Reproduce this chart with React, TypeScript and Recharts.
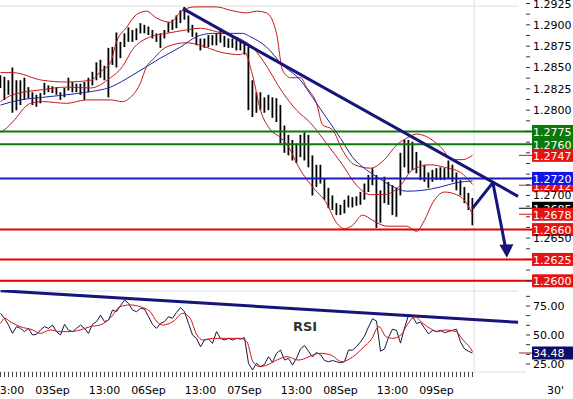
import React from "react";
import { ComposedChart, Bar, Line, XAxis, YAxis, ReferenceLine, ReferenceDot } from "recharts";

// ---------- hourly bars (index = hour, 0 = 02 Sep 11:00) ----------
const priceHigh = [
  1.2841, 1.2839, 1.2835, 1.285, 1.2835, 1.2835, 1.2838, 1.2827, 1.2821, 1.2818,
  1.282, 1.2832, 1.2829, 1.2828, 1.2827, 1.2821, 1.2826, 1.2838, 1.2833, 1.2831,
  1.2831, 1.2833, 1.2838, 1.2845, 1.2856, 1.2859, 1.2852, 1.2873, 1.2874, 1.2891,
  1.288, 1.289, 1.2897, 1.2894, 1.2896, 1.2902, 1.29, 1.2898, 1.2894, 1.289,
  1.289, 1.2894, 1.2903, 1.2906, 1.2911, 1.2917, 1.2921, 1.2911, 1.29, 1.2891,
  1.2884, 1.2884, 1.2888, 1.2888, 1.289, 1.2894, 1.2887, 1.2884, 1.2884, 1.2882,
  1.2882, 1.2879, 1.2874, 1.2835, 1.2821, 1.2821, 1.2815, 1.2818, 1.2815, 1.2814,
  1.2806, 1.2782, 1.2771, 1.2765, 1.2761, 1.2771, 1.2774, 1.2771, 1.2747, 1.2736,
  1.2736, 1.272, 1.2709, 1.27, 1.2691, 1.2689, 1.2695, 1.27, 1.2698, 1.2699,
  1.2704, 1.2714, 1.2724, 1.2732, 1.2724, 1.2706, 1.2722, 1.2716, 1.2712, 1.2709,
  1.275, 1.2765, 1.2765, 1.2763, 1.2751, 1.2741, 1.2736, 1.2727, 1.273, 1.2732,
  1.2733, 1.2732, 1.2741, 1.2736, 1.2727, 1.2718, 1.271, 1.2703, 1.2697,
];
const priceLow = [
  1.2826, 1.2812, 1.2818, 1.2797, 1.28, 1.2806, 1.2812, 1.2814, 1.2806, 1.2804,
  1.2808, 1.2818, 1.2821, 1.282, 1.2818, 1.2812, 1.2815, 1.2823, 1.2821, 1.2821,
  1.2818, 1.2812, 1.2821, 1.2829, 1.2835, 1.2838, 1.2835, 1.2815, 1.2853, 1.285,
  1.2861, 1.2874, 1.288, 1.288, 1.2882, 1.289, 1.289, 1.2888, 1.2884, 1.288,
  1.2873, 1.2884, 1.2891, 1.2894, 1.2896, 1.2902, 1.2906, 1.2891, 1.2886, 1.2876,
  1.287, 1.2873, 1.2874, 1.2876, 1.2876, 1.2879, 1.2874, 1.2873, 1.2873, 1.287,
  1.287, 1.2865, 1.28, 1.2792, 1.2797, 1.28, 1.2797, 1.28, 1.2791, 1.2786,
  1.2761, 1.275, 1.2747, 1.2741, 1.2738, 1.2745, 1.2741, 1.2733, 1.27, 1.271,
  1.2714, 1.2695, 1.2685, 1.2683, 1.2677, 1.2677, 1.2679, 1.2686, 1.2686, 1.2688,
  1.2689, 1.2695, 1.2704, 1.2712, 1.2662, 1.2668, 1.2691, 1.2689, 1.2677, 1.2675,
  1.27, 1.2733, 1.2726, 1.273, 1.2726, 1.2718, 1.2716, 1.2709, 1.2716, 1.2718,
  1.2718, 1.2718, 1.272, 1.2716, 1.2706, 1.27, 1.2691, 1.2683, 1.2665,
];
const rsiValues = [
  68.7, 64.4, 58.6, 51.4, 57.2, 55.7, 52.9, 55.7, 50.0, 50.6,
  54.3, 57.2, 55.7, 58.6, 52.9, 50.0, 59.2, 54.3, 52.9, 55.7,
  58.6, 55.7, 51.4, 59.2, 61.5, 67.2, 61.5, 62.9, 71.5, 70.1,
  75.3, 80.2, 77.3, 71.5, 70.1, 73.0, 72.4, 65.8, 59.2, 55.7,
  60.0, 61.5, 65.8, 64.4, 69.5, 73.6, 70.1, 60.0, 50.0, 47.1,
  39.9, 45.7, 46.5, 42.8, 52.9, 47.1, 45.7, 47.1, 45.7, 47.1,
  46.5, 47.7, 25.6, 19.8, 25.6, 22.7, 24.7, 31.3, 26.4, 34.2,
  37.1, 28.4, 29.9, 24.1, 30, 38, 41, 36, 31, 35,
  33, 28, 27, 28, 27, 26, 27, 37, 37, 40,
  44, 49, 57, 64, 62, 36, 38, 48, 55, 54,
  43, 56, 67, 66, 60, 61, 56, 51, 54, 53,
  54, 52, 53, 54, 55, 44, 38, 36, 34.48,
];

// ---------- indicator lines (hour index, value) ----------
const upperK = [0, 3, 10.5, 16.5, 22.5, 25, 27.5, 29, 31.5, 34, 36.5, 39, 42.5, 45, 48.5, 54, 57.5, 61.5, 64, 66.5, 69, 70.5, 72.5, 75, 76.5, 79, 80.5, 83, 85.5, 88.5, 92.5, 96, 99, 101.5, 104, 106.5, 110, 113, 115.5, 118];
const upperV = [1.2844, 1.2844, 1.2835, 1.2833, 1.2835, 1.2845, 1.2856, 1.288, 1.2897, 1.2912, 1.2916, 1.2908, 1.2903, 1.2915, 1.2921, 1.2921, 1.2917, 1.2914, 1.2916, 1.2914, 1.289, 1.2847, 1.2838, 1.2838, 1.2827, 1.2808, 1.2783, 1.2777, 1.2753, 1.2736, 1.2732, 1.2742, 1.2759, 1.2767, 1.2772, 1.2769, 1.2757, 1.2742, 1.2742, 1.2747];
const midK = [0, 3, 10.5, 16.5, 22.5, 27.5, 30.5, 33, 37.5, 41.5, 46.5, 50, 54, 60.5, 62.5, 65.5, 70.5, 74, 77.5, 81.5, 85.5, 89, 92.5, 96, 100, 103, 107.5, 111, 115, 118];
const midV = [1.281, 1.2818, 1.2824, 1.2827, 1.2826, 1.2838, 1.2851, 1.2871, 1.2886, 1.289, 1.2894, 1.2896, 1.2892, 1.2882, 1.2876, 1.2859, 1.2821, 1.28, 1.2785, 1.2761, 1.2736, 1.2712, 1.2701, 1.2701, 1.2712, 1.273, 1.2736, 1.2733, 1.2727, 1.2713];
const lowerK = [0, 1.5, 3, 7.5, 10.5, 16.5, 21.5, 27.5, 30.5, 32.5, 35, 36.5, 38, 41.5, 46.5, 50, 55, 60, 61, 63, 65, 67.5, 70, 72.5, 74, 78, 81.5, 84, 86, 88, 90.5, 93, 96.5, 101.5, 104, 106, 108, 111, 114, 116.5, 118];
const lowerV = [1.2774, 1.2779, 1.2786, 1.2808, 1.281, 1.2808, 1.2812, 1.2812, 1.281, 1.2815, 1.2832, 1.2851, 1.2859, 1.2874, 1.2879, 1.2876, 1.2868, 1.2865, 1.2868, 1.2841, 1.28, 1.2777, 1.2768, 1.2753, 1.2738, 1.271, 1.2691, 1.2668, 1.2661, 1.2665, 1.2677, 1.2671, 1.2664, 1.2664, 1.2658, 1.2671, 1.2691, 1.2704, 1.2701, 1.2691, 1.2678];
const maK = [0, 5, 10.5, 16.5, 21.5, 27.5, 33, 36.5, 40, 45, 49, 53, 60.5, 62.5, 66.5, 70.5, 75, 78, 81.5, 85, 88, 91.5, 94, 97.5, 101.5, 105.5, 110, 114, 118];
const maV = [1.2806, 1.2812, 1.2815, 1.2818, 1.2821, 1.2827, 1.2841, 1.2851, 1.2861, 1.2874, 1.2886, 1.289, 1.289, 1.2886, 1.2874, 1.2853, 1.2835, 1.2815, 1.2791, 1.2767, 1.2745, 1.273, 1.2722, 1.2712, 1.2705, 1.2706, 1.271, 1.2715, 1.2717];
const sigK = [0, 1.1, 2.4, 4.9, 8.1, 9.9, 12.4, 14.9, 17.4, 19.9, 22.4, 24.9, 27.4, 29.9, 32.4, 34.9, 37.4, 39.1, 40.6, 43.1, 45.6, 47.4, 49.1, 50.6, 53.1, 56.6, 59.9, 61.6, 63.1, 64.9, 66.6, 69.1, 71.6, 74.4, 79.9, 82.6, 85.4, 88.1, 90.9, 92.6, 94.6, 96.4, 98.1, 100.1, 101.9, 103.6, 105.6, 107.4, 109.3, 111.1, 113.9, 115.6, 117.5, 118];
const sigV = [60, 64.4, 61.5, 57.2, 54.3, 51.4, 54.3, 52.9, 52.9, 54.3, 57.2, 58.6, 64.4, 74.4, 75.9, 74.4, 70.1, 61.5, 58.6, 61.5, 68.7, 64.4, 50, 45.7, 47.1, 47.1, 47.1, 44.2, 27, 22.7, 24.1, 28.4, 31.3, 28.4, 34.2, 32.7, 27, 31.3, 39.9, 45.7, 57.2, 48.5, 47.1, 50, 60, 65.8, 60, 55.7, 52.9, 54.3, 52.9, 45.7, 38.5, 35.6];

// ---------- levels, trend lines, labels ----------
const resistance = [1.2775, 1.276];
const pivot = 1.272;
const supports = [1.266, 1.2625, 1.26];
const bandUpperLast = 1.2747;
const bandMidLast = 1.2712;
const lastPrice = 1.2685;
const bandLowerLast = 1.2678;
const rsiLast = 34.48;
const priceTrend = [{ x: 45.6, y: 1.2919 }, { x: 129.4, y: 1.2699 }];
const rsiTrend = [{ x: 0, y: 88.2 }, { x: 129.4, y: 60.9 }];
const arrowUp = [{ x: 118, y: 1.2685 }, { x: 123.1, y: 1.2715 }];
const arrowDown = [{ x: 123.1, y: 1.2715 }, { x: 126.2, y: 1.264 }];
const arrowTip = { x: 126.6, y: 1.2627 };
const lastBar = 118.4;

const priceTicks = [1.2925, 1.29125, 1.29, 1.28875, 1.2875, 1.28625, 1.285, 1.28375, 1.2825, 1.28125, 1.28, 1.27875, 1.2775, 1.27625, 1.275, 1.27375, 1.2725, 1.27125, 1.27, 1.26875, 1.2675, 1.26625, 1.265, 1.26375, 1.2625, 1.26125, 1.26];
const priceTickText = ["1.2925", "", "1.2900", "", "1.2875", "", "1.2850", "", "1.2825", "", "1.2800", "", "", "", "", "", "", "", "1.2700", "", "", "", "1.2650", "", "", "", ""];
const rsiTicks = [25, 33.33, 41.67, 50, 58.33, 66.67, 75, 83.33];
const rsiTickText = ["25.00", "", "", "50.00", "", "", "75.00", ""];
const timeTickK = [2, 13, 26, 37, 50, 61, 74, 85, 98, 109];
const timeTickText = ["13:00", "03Sep", "13:00", "06Sep", "13:00", "07Sep", "13:00", "08Sep", "13:00", "09Sep"];

const hourIdx = priceHigh.map((_, i) => i);
const barData = hourIdx.map((k) => ({ k, range: [priceLow[k], priceHigh[k]] }));
const rsiData = hourIdx.map((k) => ({ k, rsi: rsiValues[k] }));
const pairs = (ks: number[], vs: number[]) => ks.map((k, i) => ({ k, v: vs[i] }));

const FONT = "DejaVu Sans";
const X_DOMAIN: [number, number] = [-0.125, 131.375];
const NAVY = "#16167a";
const FAINT = "#d8e0e8";

const boxLabel = (text: string, bg: string, opts: { ext?: string; dash?: string; fg?: string } = {}) => (props: any) => {
  const vb = props.viewBox || {};
  const xr = (vb.x || 0) + (vb.width || 0);
  const y = vb.y || 0;
  return (
    <g>
      {opts.ext ? <line x1={xr} x2={xr + 7} y1={y} y2={y} stroke={opts.ext} strokeWidth={2} /> : null}
      {opts.dash ? <line x1={xr - 7} x2={xr + 6} y1={y} y2={y} stroke={opts.dash} strokeWidth={1} /> : null}
      <rect x={xr + 6} y={y - 6.5} width={47} height={13} fill={bg} />
      <text x={xr + 7} y={y + 4.5} fill={opts.fg || "#fff"} fontSize={11} fontFamily={FONT}>{text}</text>
    </g>
  );
};

function PriceTick(props: any) {
  const { x, y, payload } = props;
  const i = priceTicks.indexOf(payload.value);
  const t = i >= 0 ? priceTickText[i] : "";
  if (!t) return <g />;
  return <text x={x} y={y + 4} fontSize={11} fontFamily={FONT} fill="#000">{t}</text>;
}
function RsiTick(props: any) {
  const { x, y, payload } = props;
  const i = rsiTicks.indexOf(payload.value);
  const t = i >= 0 ? rsiTickText[i] : "";
  if (!t) return <g />;
  return <text x={x} y={y + 4} fontSize={11} fontFamily={FONT} fill="#000">{t}</text>;
}
function TimeTick(props: any) {
  const { x, y, payload } = props;
  const i = timeTickK.indexOf(payload.value);
  if (i < 0) return <g />;
  return <text x={x} y={y + 15} textAnchor="middle" fontSize={11} fontFamily={FONT} fill="#000">{timeTickText[i]}</text>;
}

export default function App() {
  return (
    <div style={{ position: "absolute", left: 0, top: 0, width: 573, height: 399, background: "#fff", overflow: "hidden", fontFamily: FONT }}>
      <div style={{ position: "absolute", left: 0, top: 0 }}>
        <ComposedChart width={573} height={290} data={barData} margin={{ top: 0, right: 0, bottom: 0, left: 0 }}>
          <XAxis type="number" dataKey="k" domain={X_DOMAIN} hide allowDataOverflow />
          <YAxis orientation="right" width={47} domain={[1.25892, 1.29291]} ticks={priceTicks} interval={0} tickSize={4} tickMargin={3} tickLine={{ stroke: "#333" }} axisLine={false} tick={PriceTick} allowDataOverflow />
          <ReferenceLine segment={[{ x: -0.125, y: 1.2922 }, { x: 129.4, y: 1.2922 }]} stroke={FAINT} ifOverflow="visible" />
          <ReferenceLine x={lastBar} stroke={FAINT} />
          <Line data={pairs(upperK, upperV)} dataKey="v" type="monotone" stroke="#c41818" strokeWidth={1} dot={false} activeDot={false} isAnimationActive={false} />
          <Line data={pairs(midK, midV)} dataKey="v" type="monotone" stroke="#c41818" strokeWidth={1} dot={false} activeDot={false} isAnimationActive={false} />
          <Line data={pairs(lowerK, lowerV)} dataKey="v" type="monotone" stroke="#c41818" strokeWidth={1} dot={false} activeDot={false} isAnimationActive={false} />
          <Line data={pairs(maK, maV)} dataKey="v" type="monotone" stroke="#2222a6" strokeWidth={1} dot={false} activeDot={false} isAnimationActive={false} />
          <Bar dataKey="range" fill="#000" barSize={2} isAnimationActive={false} />
          {resistance.map((v) => (
            <ReferenceLine key={"r" + v} y={v} stroke="#0c780c" strokeWidth={2} label={boxLabel(v.toFixed(4), "#0c780c", { ext: "#0c780c" })} />
          ))}
          <ReferenceLine y={bandUpperLast} stroke="none" label={boxLabel(bandUpperLast.toFixed(4), "#e41414", { dash: "#d01818" })} />
          <ReferenceLine y={bandMidLast} stroke="none" label={boxLabel(bandMidLast.toFixed(4), "#e41414", { dash: "#d01818" })} />
          <ReferenceLine y={pivot} stroke="#1c1cb8" strokeWidth={2} label={boxLabel(pivot.toFixed(4), "#1414e4", { ext: "#1c1cb8" })} />
          <ReferenceLine y={lastPrice} stroke="none" label={boxLabel(lastPrice.toFixed(4), "#000", { dash: "#000" })} />
          <ReferenceLine y={bandLowerLast} stroke="none" label={boxLabel(bandLowerLast.toFixed(4), "#e41414", { dash: "#d01818" })} />
          {supports.map((v) => (
            <ReferenceLine key={"s" + v} y={v} stroke="#e40000" strokeWidth={2} label={boxLabel(v.toFixed(4), "#e41414", { ext: "#e40000" })} />
          ))}
          <ReferenceLine segment={priceTrend} stroke={NAVY} strokeWidth={3} ifOverflow="visible" />
          <ReferenceLine segment={arrowUp} stroke={NAVY} strokeWidth={3} ifOverflow="visible" />
          <ReferenceLine segment={arrowDown} stroke={NAVY} strokeWidth={3} ifOverflow="visible" />
          <ReferenceDot x={arrowTip.x} y={arrowTip.y} r={1} ifOverflow="visible"
            shape={(p: any) => <polygon points={`${p.cx},${p.cy} ${p.cx - 7.5},${p.cy - 13} ${p.cx + 6.5},${p.cy - 13.5}`} fill={NAVY} />} />
        </ComposedChart>
      </div>
      <div style={{ position: "absolute", left: 0, top: 290 }}>
        <ComposedChart width={573} height={109} data={rsiData} margin={{ top: 0, right: 0, bottom: 0, left: 0 }}>
          <XAxis type="number" dataKey="k" domain={X_DOMAIN} ticks={hourIdx} interval={0} tickSize={5} tickMargin={2} tickLine={{ stroke: "#444" }} axisLine={{ stroke: FAINT }} height={27} tick={TimeTick} allowDataOverflow />
          <YAxis orientation="right" width={47} domain={[18.1, 88.79]} ticks={rsiTicks} interval={0} tickSize={4} tickMargin={3} tickLine={{ stroke: "#333" }} axisLine={false} tick={RsiTick} allowDataOverflow />
          <ReferenceLine segment={[{ x: -0.125, y: 87.9 }, { x: 129.4, y: 87.9 }]} stroke={FAINT} ifOverflow="visible" />
          <ReferenceLine x={lastBar} stroke={FAINT} />
          <ReferenceLine segment={rsiTrend} stroke={NAVY} strokeWidth={3} ifOverflow="visible" />
          <Line dataKey="rsi" type="linear" stroke="#15154e" strokeWidth={1} dot={false} activeDot={false} isAnimationActive={false} />
          <Line data={pairs(sigK, sigV)} dataKey="v" type="monotone" stroke="#d01414" strokeWidth={1} dot={false} activeDot={false} isAnimationActive={false} />
          <ReferenceLine y={rsiLast} stroke="none" label={boxLabel(rsiLast.toFixed(2), "#0e0e68", { dash: "#c01818" })} />
        </ComposedChart>
      </div>
      <div style={{ position: "absolute", left: 293, top: 320, fontSize: 13, fontWeight: "bold", color: "#333", lineHeight: "14px" }}>RSI</div>
      <div style={{ position: "absolute", left: 547, top: 385, fontSize: 11, color: "#000", lineHeight: "12px" }}>30'</div>
    </div>
  );
}
